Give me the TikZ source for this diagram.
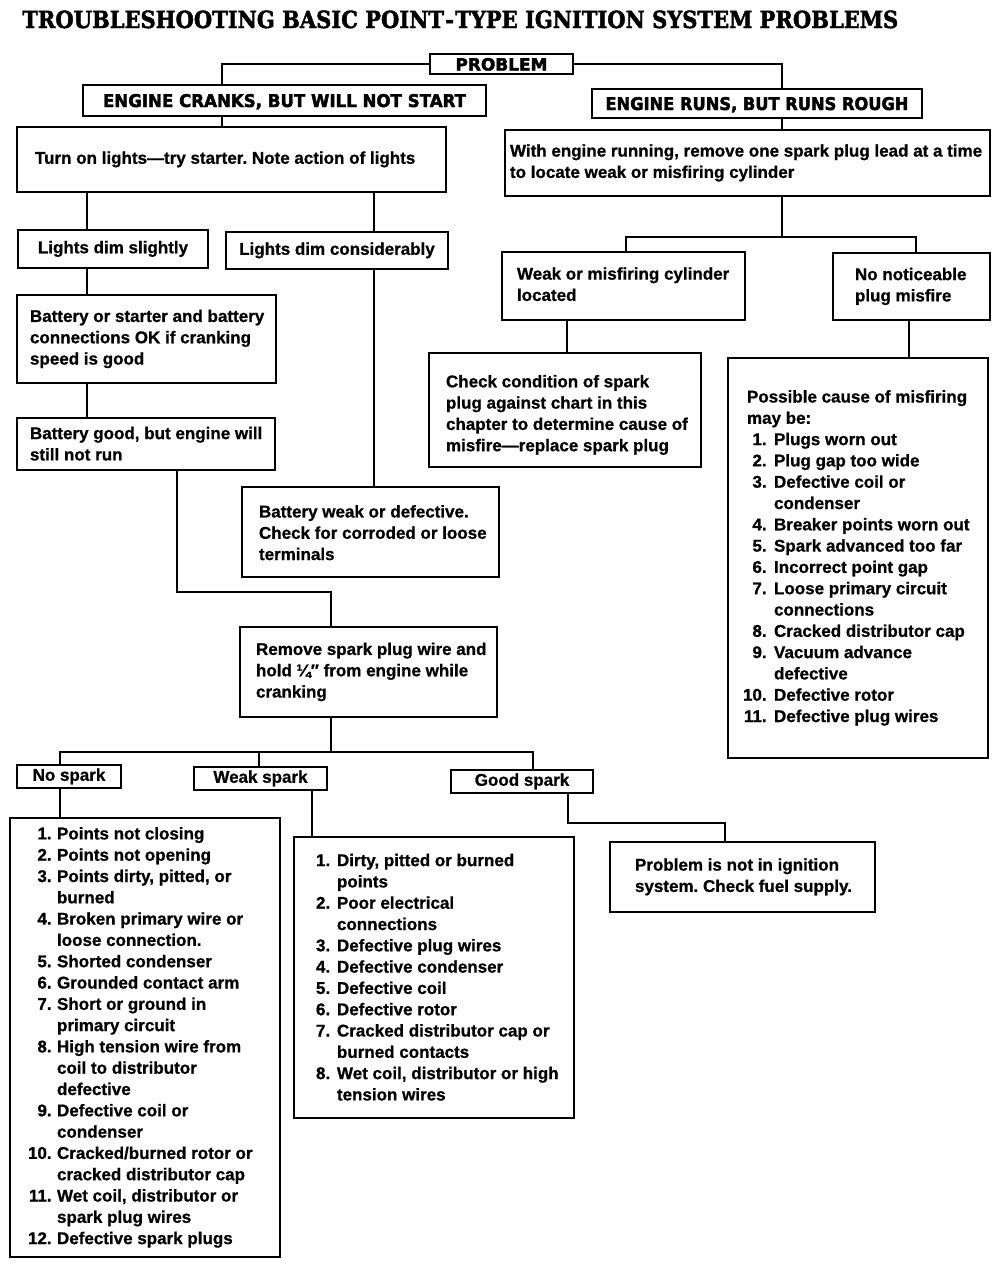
\documentclass[tikz,border=0pt]{standalone}
\usepackage{graphicx}
\usepackage{fontspec}
\setmainfont{Liberation Sans}[BoldFeatures={FakeBold=0.8}]
\newfontfamily\titlefont{DejaVu Serif}[BoldFeatures={FakeBold=2}]
\newfontfamily\headfont{DejaVu Sans}[BoldFeatures={FakeBold=2.5}]
\newdimen\upx \upx=0.5pt
\newcommand\bodyf{\fontsize{8.5pt}{10.65pt}\selectfont\bfseries\frenchspacing}
\newcommand\crow[1]{\begin{tabular}{@{}c@{}}#1\end{tabular}}
\newcommand\lbox[2]{\makebox[#1\upx][l]{\begin{tabular}{@{}l@{}}#2\end{tabular}}}
\newcommand\numlist[3]{\makebox[#1\upx][l]{\begin{tabular}{@{}r@{\hspace{#2\upx}}l@{}}#3\end{tabular}}}
\begin{document}
\begin{tikzpicture}[x=0.5pt, y=-0.5pt, line width=1.3pt,
  box/.style={draw, rectangle, inner sep=0pt, line width=1.3pt, font=\bodyf},
  sz/.style 2 args={minimum width=#1\upx, minimum height=#2\upx},
  head/.style={text height=13\upx, text depth=0pt}]
\fill[white] (0,0) rectangle (1000,1269);
\useasboundingbox (0,0) rectangle (1000,1269);

% title
\node[anchor=base west, inner sep=0pt] (title) at (21,28)
  {\resizebox{876\upx}{17.5\upx}{\titlefont\bfseries TROUBLESHOOTING BASIC POINT\kern0.6pt-\kern0.6pt TYPE IGNITION SYSTEM PROBLEMS}};

% header boxes
\node[box, sz={143}{20}, head] (problem) at (501.5,64)
  {\resizebox{92\upx}{12.5\upx}{\headfont\bfseries PROBLEM}};
\node[box, sz={403}{31}, head] (cranks) at (284.5,100.5)
  {\resizebox{363\upx}{13\upx}{\headfont\bfseries ENGINE CRANKS, BUT WILL NOT START}};
\node[box, sz={330}{29}, head] (runs) at (757,103.5)
  {\resizebox{303\upx}{13\upx}{\headfont\bfseries ENGINE RUNS, BUT RUNS ROUGH}};

% left branch
\node[box, sz={429}{65}] (turn) at (231.5,159.5)
  {\lbox{393}{Turn on lights—try starter. Note action of lights}};
\node[box, sz={190}{38}] (slight) at (113,249) {\crow{Lights dim slightly}};
\node[box, sz={222}{37}] (consid) at (337,250.5) {\crow{Lights dim considerably}};
\node[box, sz={259}{88}] (batok) at (146.5,339)
  {\lbox{233}{Battery or starter and battery\\connections OK if cranking\\speed is good}};
\node[box, sz={258}{52}] (batgood) at (146,444)
  {\lbox{232}{Battery good, but engine will\\still not run\\[-3\upx]}};
\node[box, sz={257}{90}] (batweak) at (370.5,532)
  {\lbox{223}{Battery weak or defective.\\Check for corroded or loose\\terminals\\[-5\upx]}};
\node[box, sz={257}{90}] (remove) at (368.5,672)
  {\lbox{225}{Remove spark plug wire and\\hold ¼″ from engine while\\cranking}};
\node[box, sz={104}{23}] (nospark) at (69,776.5) {\crow{No spark}};
\node[box, sz={133}{23}] (weakspark) at (260.5,778.5) {\crow{Weak spark}};
\node[box, sz={142}{23}] (goodspark) at (522,781.5) {\crow{Good spark}};
\node[box, sz={270}{439}] (nolist) at (145,1037.5)
  {\numlist{234}{5.4}{1.&Points not closing\\
  2.&Points not opening\\
  3.&Points dirty, pitted, or\\ &burned\\
  4.&Broken primary wire or\\ &loose connection.\\
  5.&Shorted condenser\\
  6.&Grounded contact arm\\
  7.&Short or ground in\\ &primary circuit\\
  8.&High tension wire from\\ &coil to distributor\\ &defective\\
  9.&Defective coil or\\ &condenser\\
  10.&Cracked/burned rotor or\\ &cracked distributor cap\\
  11.&Wet coil, distributor or\\ &spark plug wires\\
  12.&Defective spark plugs}};
\node[box, sz={280}{281}] (weaklist) at (434,977.5)
  {\numlist{236}{6.8}{1.&Dirty, pitted or burned\\ &points\\
  2.&Poor electrical\\ &connections\\
  3.&Defective plug wires\\
  4.&Defective condenser\\
  5.&Defective coil\\
  6.&Defective rotor\\
  7.&Cracked distributor cap or\\ &burned contacts\\
  8.&Wet coil, distributor or high\\ &tension wires\\[-3\upx]}};
\node[box, sz={265}{70}] (notign) at (742.5,877)
  {\lbox{215}{Problem is not in ignition\\system. Check fuel supply.}};

% right branch
\node[box, sz={485}{66}] (with) at (747.5,163)
  {\lbox{475}{With engine running, remove one spark plug lead at a time\\to locate weak or misfiring cylinder}};
\node[box, sz={243}{68}] (weakcyl) at (623.5,286)
  {\lbox{213}{Weak or misfiring cylinder\\located}};
\node[box, sz={157}{67}] (nonotice) at (911.5,286.5)
  {\lbox{113}{No noticeable\\plug misfire}};
\node[box, sz={272}{114}] (check) at (565,410)
  {\lbox{238}{Check condition of spark\\plug against chart in this\\chapter to determine cause of\\misfire—replace spark plug\\[-10\upx]}};
\node[box, sz={260}{400}] (possible) at (858,558)
  {\numlist{230}{7.4}{\multicolumn{2}{@{\hspace{4\upx}}l@{}}{Possible cause of misfiring}\\
  \multicolumn{2}{@{\hspace{4\upx}}l@{}}{may be:}\\
  1.&Plugs worn out\\
  2.&Plug gap too wide\\
  3.&Defective coil or\\ &condenser\\
  4.&Breaker points worn out\\
  5.&Spark advanced too far\\
  6.&Incorrect point gap\\
  7.&Loose primary circuit\\ &connections\\
  8.&Cracked distributor cap\\
  9.&Vacuum advance\\ &defective\\
  10.&Defective rotor\\
  11.&Defective plug wires}};

% junction coordinates
\coordinate (j1) at (222,63);
\coordinate (j2) at (782,63);
\coordinate (j3) at (87,0);
\coordinate (j4) at (374,0);
\coordinate (j5) at (177,592);
\coordinate (j6) at (331,592);
\coordinate (h1) at (782,237);
\coordinate (j8) at (626,0);
\coordinate (j9) at (916,0);
\coordinate (j10) at (567,0);
\coordinate (j11) at (909,0);
\coordinate (h2) at (331,752);
\coordinate (j12) at (60,0);
\coordinate (j13) at (533,0);
\coordinate (j14) at (259,0);
\coordinate (j15) at (312,0);
\coordinate (h3) at (568,823);
\coordinate (j17) at (725,0);

% connectors
\draw (problem.west) -| (cranks.north -| j1);
\draw (cranks.south -| j1) -- (turn.north -| j1);
\draw (problem.east) -| (runs.north -| j2);
\draw (runs.south -| j2) -- (with.north -| j2);
\draw (turn.south -| j3) -- (slight.north -| j3);
\draw (turn.south -| j4) -- (consid.north -| j4);
\draw (slight.south -| j3) -- (batok.north -| j3);
\draw (batok.south -| j3) -- (batgood.north -| j3);
\draw (consid.south -| j4) -- (batweak.north -| j4);
\draw (batgood.south -| j5) -- (j5) -- (j6) -- (remove.north -| j6);
\draw (with.south -| h1) -- (h1);
\draw (weakcyl.north -| j8) |- (h1) -| (nonotice.north -| j9);
\draw (weakcyl.south -| j10) -- (check.north -| j10);
\draw (nonotice.south -| j11) -- (possible.north -| j11);
\draw (remove.south -| h2) -- (h2);
\draw (nospark.north -| j12) |- (h2) -| (goodspark.north -| j13);
\draw (weakspark.north -| j14) -- (h2 -| j14);
\draw (nospark.south -| j12) -- (nolist.north -| j12);
\draw (weakspark.south -| j15) -- (weaklist.north -| j15);
\draw (goodspark.south -| h3) -- (h3) -| (notign.north -| j17);
\end{tikzpicture}
\end{document}
